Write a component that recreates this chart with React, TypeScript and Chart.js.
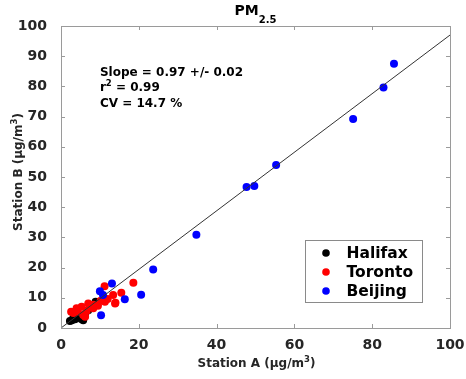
import React, { useEffect, useRef } from "react";
import { Chart, registerables } from "chart.js";

Chart.register(...registerables);

// ---- data ----
const halifaxX = [2.3, 2.8, 3.2, 3.6, 4.0, 4.6, 5.2, 5.7, 6.2, 7.0, 7.8, 8.9, 9.3];
const halifaxY = [2.3, 2.6, 3.4, 2.9, 3.6, 4.0, 3.0, 2.6, 4.6, 5.9, 6.6, 8.7, 8.3];

const torontoX = [2.6, 3.2, 4.0, 4.3, 5.3, 5.7, 6.2, 6.6, 7.0, 7.5, 8.3, 8.3, 9.5, 10.2, 11.2, 11.3, 12.0, 13.4, 13.9, 14.0, 15.5, 18.6];
const torontoY = [5.4, 5.0, 6.5, 5.5, 7.0, 4.3, 3.7, 5.6, 8.1, 7.6, 6.5, 7.7, 7.4, 9.0, 13.8, 8.7, 9.6, 10.9, 8.1, 8.4, 11.7, 15.0];

const beijingX = [10.0, 10.3, 10.8, 13.1, 16.4, 20.6, 23.7, 34.8, 47.7, 49.7, 55.3, 75.1, 82.9, 85.6];
const beijingY = [12.2, 4.2, 10.9, 14.7, 9.5, 11.0, 19.4, 30.9, 46.7, 47.0, 54.0, 69.2, 79.6, 87.5];

const fitX = [0, 100];
const fitY = [0, 97];

const seriesNames = ["Halifax", "Toronto", "Beijing"];
const seriesColors = ["#000000", "#ff0000", "#0000ff"];

const xTickValues = [0, 20, 40, 60, 80, 100];
const yTickValues = [0, 10, 20, 30, 40, 50, 60, 70, 80, 90, 100];

const titleMain = "PM";
const titleSub = "2.5";
const xLabelMain = "Station A (μg/m";
const yLabelMain = "Station B (μg/m";
const unitSup = "3";
const statLine1 = "Slope = 0.97 +/- 0.02";
const statLine2a = "r";
const statLine2sup = "2";
const statLine2b = " = 0.99";
const statLine3 = "CV = 14.7 %";

const FONT = "'DejaVu Sans', sans-serif";

type Seg = { text: string; size: number; dy: number };

function segWidth(ctx: CanvasRenderingContext2D, segs: Seg[]) {
  let w = 0;
  for (const s of segs) {
    ctx.font = `bold ${s.size}px ${FONT}`;
    w += ctx.measureText(s.text).width;
  }
  return w;
}

function drawSegs(ctx: CanvasRenderingContext2D, segs: Seg[], x: number, y: number) {
  let cx = x;
  ctx.textBaseline = "alphabetic";
  ctx.textAlign = "left";
  for (const s of segs) {
    ctx.font = `bold ${s.size}px ${FONT}`;
    ctx.fillText(s.text, cx, y + s.dy);
    cx += ctx.measureText(s.text).width;
  }
}

const decorPlugin = {
  id: "decor",
  afterDraw(chart: any) {
    const ctx: CanvasRenderingContext2D = chart.ctx;
    const { left, right, top, bottom } = chart.chartArea;
    const xs = chart.scales.x;
    const ys = chart.scales.y;
    ctx.save();

    // box
    ctx.strokeStyle = "#9a9a9a";
    ctx.lineWidth = 1;
    ctx.strokeRect(Math.round(left) + 0.5, Math.round(top) + 0.5, Math.round(right - left), Math.round(bottom - top));

    // inward ticks
    const tl = 4;
    ctx.beginPath();
    for (const v of xTickValues) {
      const px = Math.round(xs.getPixelForValue(v)) + 0.5;
      ctx.moveTo(px, bottom);
      ctx.lineTo(px, bottom - tl);
      ctx.moveTo(px, top);
      ctx.lineTo(px, top + tl);
    }
    for (const v of yTickValues) {
      const py = Math.round(ys.getPixelForValue(v)) + 0.5;
      ctx.moveTo(left, py);
      ctx.lineTo(left + tl, py);
      ctx.moveTo(right, py);
      ctx.lineTo(right - tl, py);
    }
    ctx.stroke();

    // title
    ctx.fillStyle = "#000";
    const tSegs: Seg[] = [
      { text: titleMain, size: 14, dy: 0 },
      { text: titleSub, size: 10, dy: 7.5 },
    ];
    const cxTitle = (left + right) / 2;
    drawSegs(ctx, tSegs, cxTitle - segWidth(ctx, tSegs) / 2, 15);

    // x label
    ctx.fillStyle = "#262626";
    const xl: Seg[] = [
      { text: xLabelMain, size: 12, dy: 0 },
      { text: unitSup, size: 8.5, dy: -5.5 },
      { text: ")", size: 12, dy: 0 },
    ];
    drawSegs(ctx, xl, cxTitle + 1 - segWidth(ctx, xl) / 2, 367);

    // y label
    const yl: Seg[] = [
      { text: yLabelMain, size: 12, dy: 0 },
      { text: unitSup, size: 8.5, dy: -5.5 },
      { text: ")", size: 12, dy: 0 },
    ];
    ctx.save();
    ctx.translate(22, 172);
    ctx.rotate(-Math.PI / 2);
    drawSegs(ctx, yl, -segWidth(ctx, yl) / 2, 0);
    ctx.restore();

    // stats text
    ctx.fillStyle = "#000";
    const sx = xs.getPixelForValue(10);
    const sy = ys.getPixelForValue(83.5);
    drawSegs(ctx, [{ text: statLine1, size: 12, dy: 0 }], sx, sy);
    drawSegs(
      ctx,
      [
        { text: statLine2a, size: 12, dy: 0 },
        { text: statLine2sup, size: 8.5, dy: -5.5 },
        { text: statLine2b, size: 12, dy: 0 },
      ],
      sx,
      sy + 15.5
    );
    drawSegs(ctx, [{ text: statLine3, size: 12, dy: 0 }], sx, sy + 31);

    // legend
    const lx0 = right - 28 - 117;
    const ly0 = bottom - 26 - 62;
    ctx.fillStyle = "#fff";
    ctx.fillRect(lx0, ly0, 117, 62);
    ctx.strokeStyle = "#8a8a8a";
    ctx.strokeRect(Math.round(lx0) + 0.5, Math.round(ly0) + 0.5, 117, 62);
    for (let i = 0; i < seriesNames.length; i++) {
      const yy = ly0 + 13 + i * 19;
      ctx.fillStyle = seriesColors[i];
      ctx.beginPath();
      ctx.arc(lx0 + 21, yy, 3.8, 0, Math.PI * 2);
      ctx.fill();
      ctx.fillStyle = "#000";
      ctx.font = `bold 15.5px ${FONT}`;
      ctx.textAlign = "left";
      ctx.textBaseline = "middle";
      ctx.fillText(seriesNames[i], lx0 + 41.5, yy + 1);
    }

    ctx.restore();
  },
};

function pts(xs: number[], ys: number[]) {
  return xs.map((x, i) => ({ x, y: ys[i] }));
}

export default function App() {
  const ref = useRef<HTMLCanvasElement | null>(null);
  useEffect(() => {
    if (!ref.current) return;
    const chart = new Chart(ref.current, {
      type: "scatter",
      data: {
        datasets: [
          {
            type: "line",
            label: "fit",
            data: pts(fitX, fitY),
            borderColor: "#333333",
            borderWidth: 1,
            pointRadius: 0,
            fill: false,
            order: 0,
          } as any,
          {
            label: seriesNames[2],
            data: pts(beijingX, beijingY),
            backgroundColor: seriesColors[2],
            borderWidth: 0,
            pointRadius: 4,
            order: 1,
          },
          {
            label: seriesNames[1],
            data: pts(torontoX, torontoY),
            backgroundColor: seriesColors[1],
            borderWidth: 0,
            pointRadius: 4,
            order: 2,
          },
          {
            label: seriesNames[0],
            data: pts(halifaxX, halifaxY),
            backgroundColor: seriesColors[0],
            borderWidth: 0,
            pointRadius: 4,
            order: 3,
          },
        ],
      },
      options: {
        animation: false,
        responsive: false,
        layout: { padding: { top: 26, right: 16, left: 0, bottom: 0 } },
        plugins: { legend: { display: false }, tooltip: { enabled: false }, title: { display: false } },
        scales: {
          x: {
            type: "linear",
            min: 0,
            max: 100,
            afterFit: (s: any) => {
              s.height = 51;
              s.paddingLeft = 0;
              s.paddingRight = 0;
            },
            afterBuildTicks: (s: any) => {
              s.ticks = xTickValues.map((v) => ({ value: v }));
            },
            grid: { display: false },
            border: { display: false },
            ticks: {
              padding: 1,
              color: "#262626",
              font: { family: FONT, size: 14, weight: "bold" },
              maxRotation: 0,
            },
          },
          y: {
            type: "linear",
            min: 0,
            max: 100,
            afterFit: (s: any) => {
              s.width = 61;
              s.paddingTop = 0;
              s.paddingBottom = 0;
            },
            afterBuildTicks: (s: any) => {
              s.ticks = yTickValues.map((v) => ({ value: v }));
            },
            grid: { display: false },
            border: { display: false },
            ticks: {
              padding: 6,
              color: "#262626",
              font: { family: FONT, size: 14, weight: "bold" },
            },
          },
        },
      },
      plugins: [decorPlugin],
    } as any);
    return () => chart.destroy();
  }, []);
  return (
    <div style={{ position: "absolute", left: 0, top: 0, width: 466, height: 379, background: "#fff" }}>
      <canvas ref={ref} width={466} height={379} />
    </div>
  );
}
